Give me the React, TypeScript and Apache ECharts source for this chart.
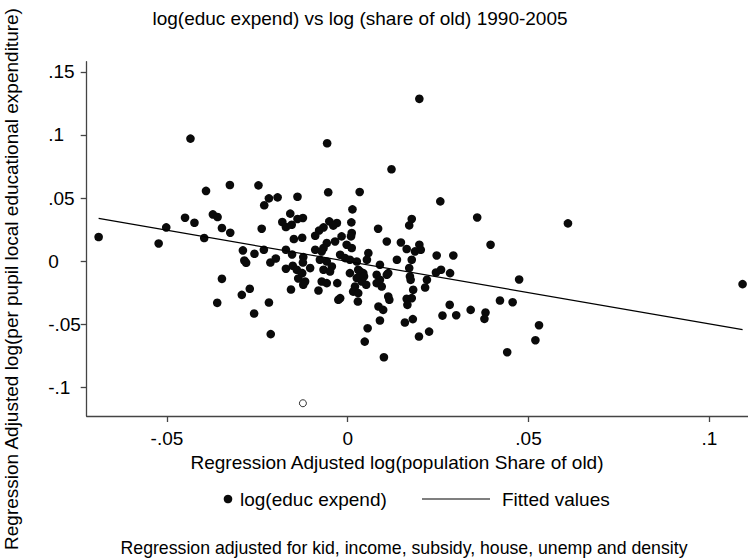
import React, { useEffect, useRef } from "react";
import * as echarts from "echarts";

const FONT = "'Liberation Sans', Arial, Helvetica, sans-serif";

const titleText = "log(educ expend) vs log (share of old) 1990-2005";
const xTitle = "Regression Adjusted log(population Share of old)";
const yTitle = "Regression Adjusted log(per pupil local educational expenditure)";
const noteText = "Regression adjusted for kid, income, subsidy, house, unemp and density";
const seriesNames = ["log(educ expend)", "Fitted values"];

const xTickValues = [-0.05, 0, 0.05, 0.1];
const xTickLabels = ["-.05", "0", ".05", ".1"];
const yTickValues = [-0.1, -0.05, 0, 0.05, 0.1, 0.15];
const yTickLabels = ["-.1", "-.05", "0", ".05", ".1", ".15"];

const educX = [
  -0.0435, -0.0392, -0.0326, -0.0247, -0.0218, -0.0194, -0.0231, -0.0139, -0.045, -0.0424,
  -0.0373, -0.036, -0.0502, -0.0348, -0.0238, 0.0198, -0.0057, 0.0121, -0.0054, 0.0033,
  0.0256, 0.0358, 0.0013, 0.001, 0.0177, 0.017, 0.0084, -0.0159, -0.0124, 0.0609,
  0.0395, 0.0474, 0.0421, 0.0456, 0.0381, 0.0378, 0.0529, 0.0519, 0.0441, 0.1092,
  -0.0689, -0.0523, -0.0397, -0.0325, -0.029, -0.0258, -0.0232, -0.0286, -0.0281, -0.0214,
  -0.0199, -0.0171, -0.0154, -0.0171, -0.0152, -0.0137, -0.0157, -0.0348, -0.0271, -0.0293,
  -0.0361, -0.0218, -0.0259, -0.0213, -0.0181, -0.0171, -0.0155, -0.0139, -0.0149, -0.0126,
  -0.0123, -0.0124, -0.0141, -0.0126, -0.0051, -0.003, -0.004, -0.0067, -0.0079, -0.009,
  -0.0058, -0.0035, -0.0017, 0.0011, -0.0003, 0.0011, -0.009, -0.0067, -0.0072, -0.0077,
  -0.0058, -0.0044, -0.0021, -0.0007, 0.0006, 0.0025, 0.0057, 0.0053, 0.0108, 0.0147,
  0.0163, 0.0186, 0.0136, 0.0177, -0.0104, -0.0067, -0.0049, 0.0029, 0.0043, 0.0089,
  0.0112, 0.017, 0.0172, 0.0009, 0.0198, 0.0202, 0.0246, 0.0292, 0.0244, 0.0258,
  0.0283, 0.0219, 0.0214, 0.0174, 0.0181, 0.0177, 0.0163, 0.0165, -0.0081, -0.0029,
  -0.0021, -0.0026, 0.0015, 0.0028, 0.002, 0.0034, 0.0025, 0.0039, 0.0045, 0.0051,
  0.008, 0.0089, 0.008, 0.0094, 0.0108, 0.0112, 0.0115, 0.0085, 0.0098, 0.0089,
  0.0055, 0.0047, 0.01, 0.0158, 0.018, 0.0197, 0.0225, 0.0262, 0.0282, 0.03,
  0.034, -0.0118, -0.0123, -0.0127, -0.0072, -0.0058, 0.0029, 0.0006,
];
const educY = [
  0.0971, 0.0557, 0.0604, 0.0601, 0.0498, 0.0506, 0.0443, 0.0511, 0.0345, 0.0305,
  0.0371, 0.035, 0.0268, 0.0263, 0.0258, 0.1286, 0.0934, 0.0728, 0.0546, 0.0549,
  0.0474, 0.0347, 0.0411, 0.0308, 0.0335, 0.0284, 0.0258, 0.0377, 0.0343, 0.03,
  0.0131, -0.0144, -0.0311, -0.0324, -0.0406, -0.0456, -0.0506, -0.0625, -0.072, -0.0181,
  0.0192, 0.0141, 0.0184, 0.0226, 0.0086, 0.0059, 0.0091, 0.0006, -0.0012, -0.001,
  0.0022, 0.0091, 0.0054, -0.0059, -0.0036, -0.0136, -0.0224, -0.0139, -0.0218, -0.0266,
  -0.0329, -0.0327, -0.0414, -0.0577, 0.0311, 0.0271, 0.0289, 0.0335, 0.0176, 0.0186,
  0.0033, -0.001, -0.0067, -0.0094, 0.0316, 0.0303, 0.0282, 0.0268, 0.0244, 0.0202,
  0.0144, 0.0157, 0.0197, 0.0224, 0.0131, 0.0105, 0.0091, 0.0105, 0.0078, 0.0012,
  -0.0002, -0.0041, 0.0052, 0.0025, 0.0012, -0.0002, 0.0065, 0.0012, 0.0157, 0.0149,
  0.0097, 0.0078, 0.0012, 0.0012, -0.0054, -0.0067, -0.0081, -0.0067, -0.0094, -0.0028,
  -0.0094, -0.0054, -0.012, 0.0197, 0.0131, 0.0091, 0.0046, 0.0046, -0.0089, -0.0067,
  -0.0094, -0.0147, -0.0208, -0.0147, -0.0226, -0.0292, -0.0297, -0.0345, -0.0232, -0.0173,
  -0.0292, -0.0305, -0.024, -0.0319, -0.02, -0.0081, -0.0133, -0.016, -0.012, -0.0186,
  -0.0107, -0.0147, -0.0173, -0.02, -0.0107, -0.0279, -0.0305, -0.0358, -0.0385, -0.0469,
  -0.053, -0.0636, -0.076, -0.0485, -0.0458, -0.0596, -0.0557, -0.043, -0.0345, -0.0427,
  -0.0385, -0.016, -0.0186, -0.0094, -0.016, -0.0173, -0.0252, -0.0094,
];

const outlierX = [-0.0124];
const outlierY = [-0.1124];

const fittedX = [-0.0689, 0.1092];
const fittedY = [0.0339, -0.0541];

const X_MIN = -0.0722;
const X_MAX = 0.1107;
const Y_MIN = -0.1225;
const Y_MAX = 0.158;

function labelFor(v: number, vals: number[], labels: string[]) {
  for (let i = 0; i < vals.length; i++) {
    if (Math.abs(v - vals[i]) < 1e-9) return labels[i];
  }
  return "";
}

export default function App() {
  const ref = useRef<HTMLDivElement>(null);

  useEffect(() => {
    if (!ref.current) return;
    const chart = echarts.init(ref.current, undefined, { renderer: "svg" });

    const scatterData = educX.map((x, i) => [x, educY[i]]);
    const outlierData = outlierX.map((x, i) => [x, outlierY[i]]);
    const fittedData = fittedX.map((x, i) => [x, fittedY[i]]);

    const axisColor = "#444";
    const textStyleBase = { fontFamily: FONT, fontSize: 19, fill: "#000" };

    chart.setOption({
      animation: false,
      backgroundColor: "#fff",
      grid: {
        left: 86.7,
        top: 61.7,
        right: 0,
        bottom: 143,
        containLabel: false,
        outerBoundsMode: "none",
      },
      xAxis: {
        type: "value",
        min: X_MIN,
        max: X_MAX,
        splitLine: { show: false },
        axisLine: { show: true, onZero: false, lineStyle: { color: axisColor, width: 1.3 } },
        axisTick: {
          show: true,
          length: 6,
          customValues: xTickValues,
          lineStyle: { color: axisColor, width: 1.3 },
        },
        axisLabel: {
          customValues: xTickValues,
          formatter: (v: number) => labelFor(v, xTickValues, xTickLabels),
          color: "#000",
          fontFamily: FONT,
          fontSize: 19,
          margin: 13,
        },
      },
      yAxis: {
        type: "value",
        min: Y_MIN,
        max: Y_MAX,
        splitLine: { show: false },
        axisLine: { show: true, onZero: false, lineStyle: { color: axisColor, width: 1.3 } },
        axisTick: {
          show: true,
          length: 6,
          customValues: yTickValues,
          lineStyle: { color: axisColor, width: 1.3 },
        },
        axisLabel: {
          customValues: yTickValues,
          formatter: (v: number) => labelFor(v, yTickValues, yTickLabels),
          color: "#000",
          fontFamily: FONT,
          fontSize: 19,
          align: "left",
          margin: 38.5,
        },
      },
      series: [
        {
          name: seriesNames[0],
          type: "scatter",
          data: scatterData,
          symbol: "circle",
          symbolSize: 8.6,
          itemStyle: { color: "#0a0a0a", opacity: 1 },
          z: 2,
        },
        {
          name: "outlier",
          type: "scatter",
          data: outlierData,
          symbol: "circle",
          symbolSize: 7,
          itemStyle: { color: "#fff", borderColor: "#000", borderWidth: 1 },
          z: 2,
        },
        {
          name: seriesNames[1],
          type: "line",
          data: fittedData,
          symbol: "none",
          lineStyle: { color: "#000", width: 1.2 },
          z: 3,
        },
      ],
      graphic: [
        {
          type: "text",
          x: 360,
          y: 18,
          style: { ...textStyleBase, text: titleText, textAlign: "center", textVerticalAlign: "middle" },
        },
        {
          type: "text",
          x: 397,
          y: 462,
          style: { ...textStyleBase, text: xTitle, textAlign: "center", textVerticalAlign: "middle" },
        },
        {
          type: "text",
          x: 11,
          y: 279,
          rotation: Math.PI / 2,
          style: { ...textStyleBase, text: yTitle, textAlign: "center", textVerticalAlign: "middle" },
        },
        {
          type: "circle",
          shape: { cx: 228, cy: 499, r: 4.3 },
          style: { fill: "#0a0a0a" },
        },
        {
          type: "text",
          x: 240,
          y: 499,
          style: { ...textStyleBase, text: seriesNames[0], textAlign: "left", textVerticalAlign: "middle" },
        },
        {
          type: "line",
          shape: { x1: 422, y1: 499, x2: 490, y2: 499 },
          style: { stroke: "#000", lineWidth: 1.2 },
        },
        {
          type: "text",
          x: 502,
          y: 499,
          style: { ...textStyleBase, text: seriesNames[1], textAlign: "left", textVerticalAlign: "middle" },
        },
        {
          type: "text",
          x: 404,
          y: 548,
          style: {
            ...textStyleBase,
            fontSize: 17.7,
            text: noteText,
            textAlign: "center",
            textVerticalAlign: "middle",
          },
        },
      ],
    });

    return () => chart.dispose();
  }, []);

  return (
    <div
      ref={ref}
      style={{ position: "absolute", left: 0, top: 0, width: 748, height: 559, background: "#fff" }}
    />
  );
}
